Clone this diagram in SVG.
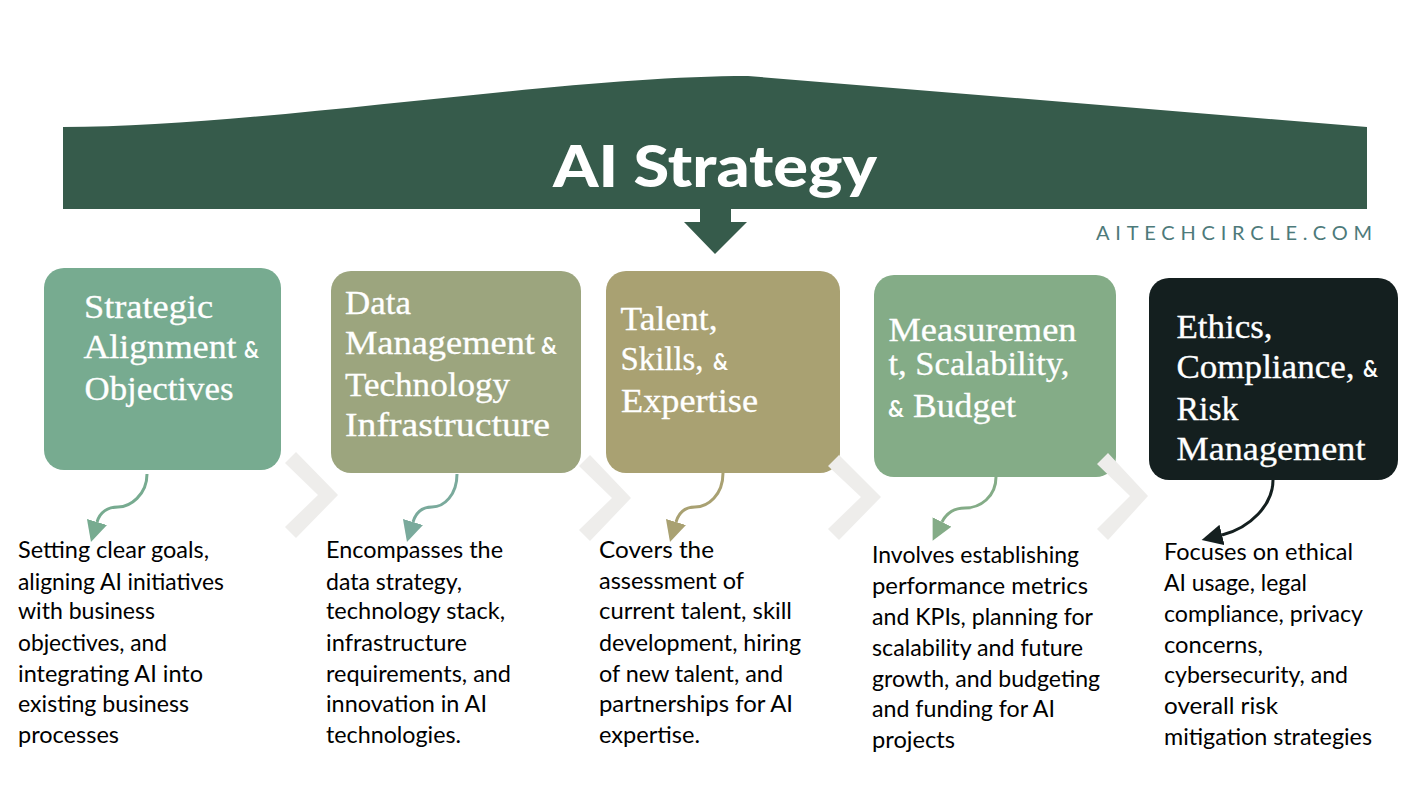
<svg xmlns="http://www.w3.org/2000/svg" width="1414" height="794" viewBox="0 0 1414 794">
<style>
.title{font-family:"Lato","Liberation Sans",sans-serif;font-weight:900;font-size:58px;fill:#fff}
.site{font-family:"Lato","Liberation Sans",sans-serif;font-size:20px;fill:#4d7a7a}
.h{font-family:"Liberation Serif","DejaVu Serif",serif;font-size:34px;fill:#fff;stroke:#fff;stroke-width:.3px}
.amp{font-family:"Lato","Liberation Sans",sans-serif;font-weight:700;font-size:23px;fill:#fff}
.d{font-family:"Lato","Liberation Sans",sans-serif;font-size:23px;fill:#000}
.c{fill:none;stroke-width:3}
.chev{fill:#eeedeb}
</style>
<defs>
<marker id="m1" viewBox="0 0 10 10" refX="0" refY="5" markerWidth="21" markerHeight="21" markerUnits="userSpaceOnUse" orient="auto"><path d="M0 0L10 5L0 10Z" fill="#77ab90"/></marker>
<marker id="m2" viewBox="0 0 10 10" refX="0" refY="5" markerWidth="21" markerHeight="21" markerUnits="userSpaceOnUse" orient="auto"><path d="M0 0L10 5L0 10Z" fill="#7aaa9c"/></marker>
<marker id="m3" viewBox="0 0 10 10" refX="0" refY="5" markerWidth="21" markerHeight="21" markerUnits="userSpaceOnUse" orient="auto"><path d="M0 0L10 5L0 10Z" fill="#a9a172"/></marker>
<marker id="m4" viewBox="0 0 10 10" refX="0" refY="5" markerWidth="21" markerHeight="21" markerUnits="userSpaceOnUse" orient="auto"><path d="M0 0L10 5L0 10Z" fill="#84ac87"/></marker>
<marker id="m5" viewBox="0 0 10 10" refX="0" refY="5" markerWidth="21" markerHeight="21" markerUnits="userSpaceOnUse" orient="auto"><path d="M0 0L10 5L0 10Z" fill="#141f1f"/></marker>
</defs>
<rect width="1414" height="794" fill="#fff"/>
<g id="banner">
<path d="M63 127C260 127 560 76 748 76L1367 127V209H63Z" fill="#365b4b"/>
<path d="M700 209H731V222H747L715 254L684 222H700Z" fill="#365b4b"/>
<text class="title" x="553" y="187" textLength="324" lengthAdjust="spacingAndGlyphs">AI Strategy</text>
<text class="site" x="1096" y="240" textLength="276" lengthAdjust="spacing">AITECHCIRCLE.COM</text>
</g>
<g id="node1">
<rect x="44" y="268" width="237" height="202" rx="20" fill="#77ab90"/>
<text class="h" x="84" y="318" textLength="129" lengthAdjust="spacingAndGlyphs">Strategic</text>
<text class="h" x="83.5" y="358" textLength="153" lengthAdjust="spacingAndGlyphs">Alignment</text>
<text class="amp" x="244" y="358" textLength="15" lengthAdjust="spacingAndGlyphs">&amp;</text>
<text class="h" x="84.5" y="400" textLength="149" lengthAdjust="spacingAndGlyphs">Objectives</text>
<text class="d" x="18" y="558" textLength="191" lengthAdjust="spacingAndGlyphs">Setting clear goals,</text>
<text class="d" x="18" y="590" textLength="206" lengthAdjust="spacingAndGlyphs">aligning AI initiatives</text>
<text class="d" x="18" y="619" textLength="137" lengthAdjust="spacingAndGlyphs">with business</text>
<text class="d" x="18" y="651" textLength="149" lengthAdjust="spacingAndGlyphs">objectives, and</text>
<text class="d" x="18" y="682" textLength="185" lengthAdjust="spacingAndGlyphs">integrating AI into</text>
<text class="d" x="18" y="712" textLength="171" lengthAdjust="spacingAndGlyphs">existing business</text>
<text class="d" x="18" y="743" textLength="101" lengthAdjust="spacingAndGlyphs">processes</text>
</g>
<g id="node2">
<rect x="331" y="271" width="250" height="202" rx="20" fill="#9ca57e"/>
<text class="h" x="345" y="314" textLength="66" lengthAdjust="spacingAndGlyphs">Data</text>
<text class="h" x="345" y="354" textLength="190" lengthAdjust="spacingAndGlyphs">Management</text>
<text class="amp" x="541" y="354" textLength="16" lengthAdjust="spacingAndGlyphs">&amp;</text>
<text class="h" x="345" y="396" textLength="165" lengthAdjust="spacingAndGlyphs">Technology</text>
<text class="h" x="345" y="436" textLength="205" lengthAdjust="spacingAndGlyphs">Infrastructure</text>
<text class="d" x="326" y="558" textLength="177" lengthAdjust="spacingAndGlyphs">Encompasses the</text>
<text class="d" x="326" y="590" textLength="136" lengthAdjust="spacingAndGlyphs">data strategy,</text>
<text class="d" x="326" y="619" textLength="179" lengthAdjust="spacingAndGlyphs">technology stack,</text>
<text class="d" x="326" y="651" textLength="141" lengthAdjust="spacingAndGlyphs">infrastructure</text>
<text class="d" x="326" y="682" textLength="185" lengthAdjust="spacingAndGlyphs">requirements, and</text>
<text class="d" x="326" y="712" textLength="161" lengthAdjust="spacingAndGlyphs">innovation in AI</text>
<text class="d" x="326" y="743" textLength="135" lengthAdjust="spacingAndGlyphs">technologies.</text>
</g>
<g id="node3">
<rect x="606" y="271" width="234" height="202" rx="20" fill="#a9a172"/>
<text class="h" x="620.5" y="330" textLength="97" lengthAdjust="spacingAndGlyphs">Talent,</text>
<text class="h" x="620.5" y="370" textLength="83" lengthAdjust="spacingAndGlyphs">Skills,</text>
<text class="amp" x="713" y="370" textLength="15" lengthAdjust="spacingAndGlyphs">&amp;</text>
<text class="h" x="621" y="412" textLength="137" lengthAdjust="spacingAndGlyphs">Expertise</text>
<text class="d" x="599" y="558" textLength="115" lengthAdjust="spacingAndGlyphs">Covers the</text>
<text class="d" x="599" y="589" textLength="145" lengthAdjust="spacingAndGlyphs">assessment of</text>
<text class="d" x="599" y="619" textLength="193" lengthAdjust="spacingAndGlyphs">current talent, skill</text>
<text class="d" x="599" y="651" textLength="202" lengthAdjust="spacingAndGlyphs">development, hiring</text>
<text class="d" x="599" y="682" textLength="184" lengthAdjust="spacingAndGlyphs">of new talent, and</text>
<text class="d" x="599" y="712" textLength="194" lengthAdjust="spacingAndGlyphs">partnerships for AI</text>
<text class="d" x="599" y="743" textLength="101" lengthAdjust="spacingAndGlyphs">expertise.</text>
</g>
<g id="node4">
<rect x="874" y="275" width="242" height="202" rx="20" fill="#84ac87"/>
<text class="h" x="888.5" y="341" textLength="188" lengthAdjust="spacingAndGlyphs">Measuremen</text>
<text class="h" x="888.5" y="375" textLength="181" lengthAdjust="spacingAndGlyphs">t, Scalability,</text>
<text class="amp" x="888" y="417" textLength="16" lengthAdjust="spacingAndGlyphs">&amp;</text>
<text class="h" x="913" y="417" textLength="103" lengthAdjust="spacingAndGlyphs">Budget</text>
<text class="d" x="872" y="563" textLength="207" lengthAdjust="spacingAndGlyphs">Involves establishing</text>
<text class="d" x="872" y="594" textLength="216" lengthAdjust="spacingAndGlyphs">performance metrics</text>
<text class="d" x="872" y="625" textLength="221" lengthAdjust="spacingAndGlyphs">and KPIs, planning for</text>
<text class="d" x="872" y="656" textLength="211" lengthAdjust="spacingAndGlyphs">scalability and future</text>
<text class="d" x="872" y="687" textLength="228" lengthAdjust="spacingAndGlyphs">growth, and budgeting</text>
<text class="d" x="872" y="717" textLength="183" lengthAdjust="spacingAndGlyphs">and funding for AI</text>
<text class="d" x="872" y="748" textLength="83" lengthAdjust="spacingAndGlyphs">projects</text>
</g>
<g id="node5">
<rect x="1149" y="278" width="249" height="202" rx="20" fill="#141f1f"/>
<text class="h" x="1176.5" y="338" textLength="96" lengthAdjust="spacingAndGlyphs">Ethics,</text>
<text class="h" x="1176.5" y="378" textLength="178" lengthAdjust="spacingAndGlyphs">Compliance,</text>
<text class="amp" x="1363" y="377" textLength="15" lengthAdjust="spacingAndGlyphs">&amp;</text>
<text class="h" x="1176.5" y="420" textLength="62" lengthAdjust="spacingAndGlyphs">Risk</text>
<text class="h" x="1176.5" y="460" textLength="189" lengthAdjust="spacingAndGlyphs">Management</text>
</g>
<g id="chevrons">
<polygon class="chev" points="285,463 296,452 338,495 296,538 285,527 318,495"/>
<polygon class="chev" points="579,466 590,455 631,498 590,541 579,530 612,498"/>
<polygon class="chev" points="828,466 839,455 881,497 839,540 828,529 861,497"/>
<polygon class="chev" points="1097,464 1108,453 1148,496 1108,540 1097,529 1130,496"/>
</g>
<g id="connectors">
<path class="c" stroke="#77ab90" marker-end="url(#m1)" d="M147 474C147 495 130 507 118 507C108 507 100 512 97 522"/>
<path class="c" stroke="#7aaa9c" marker-end="url(#m2)" d="M457 474C457 495 444 507 432 507C422 507 416 512 413 522"/>
<path class="c" stroke="#a9a172" marker-end="url(#m3)" d="M723 473C723 495 708 507 695 507C685 507 679 512 676 522"/>
<path class="c" stroke="#84ac87" marker-end="url(#m4)" d="M996 477C996 497 980 508 965 508C955 508 947 512 942 522"/>
<path class="c" stroke="#141f1f" marker-end="url(#m5)" d="M1273 480C1273 505 1250 528 1222 535"/>
</g>
<g id="node5-text">
<text class="d" x="1164" y="560" textLength="189" lengthAdjust="spacingAndGlyphs">Focuses on ethical</text>
<text class="d" x="1164" y="591" textLength="143" lengthAdjust="spacingAndGlyphs">AI usage, legal</text>
<text class="d" x="1164" y="622" textLength="199" lengthAdjust="spacingAndGlyphs">compliance, privacy</text>
<text class="d" x="1164" y="653" textLength="99" lengthAdjust="spacingAndGlyphs">concerns,</text>
<text class="d" x="1164" y="683" textLength="184" lengthAdjust="spacingAndGlyphs">cybersecurity, and</text>
<text class="d" x="1164" y="714" textLength="114" lengthAdjust="spacingAndGlyphs">overall risk</text>
<text class="d" x="1164" y="745" textLength="208" lengthAdjust="spacingAndGlyphs">mitigation strategies</text>
</g>
</svg>
